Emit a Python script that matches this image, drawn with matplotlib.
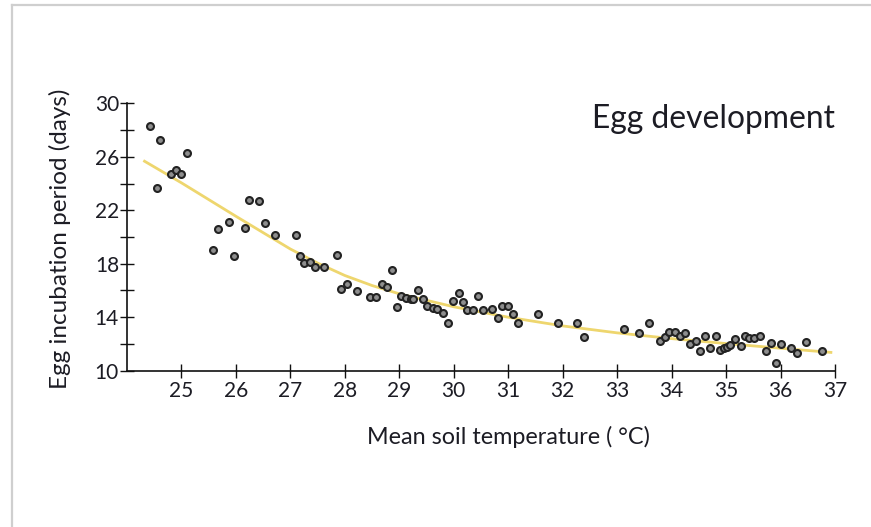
import numpy as np
import matplotlib.pyplot as plt
from matplotlib.ticker import FixedLocator


# scatter: mean soil temperature (C) vs egg incubation period (days)
temp = [24.42, 24.61, 25.10, 24.80, 24.90, 25.00, 24.55, 26.24, 26.43, 25.87,
        26.53, 25.67, 26.16, 26.71, 27.10, 25.57, 25.97, 27.17, 27.25, 27.36,
        27.46, 27.62, 27.85, 27.93, 28.04, 28.22, 28.47, 28.58, 28.68, 28.78,
        28.86, 28.96, 29.04, 29.12, 29.21, 29.26, 29.34, 29.44, 29.51, 29.61,
        29.70, 29.80, 29.90, 29.98, 30.09, 30.17, 30.25, 30.36, 30.44, 30.54,
        30.71, 30.82, 30.89, 30.99, 31.09, 31.18, 31.54, 31.92, 32.27, 32.39,
        33.12, 33.40, 33.58, 33.78, 33.87, 33.95, 34.06, 34.15, 34.25, 34.33,
        34.44, 34.52, 34.61, 34.71, 34.81, 34.88, 34.96, 35.02, 35.08, 35.17,
        35.28, 35.34, 35.43, 35.52, 35.62, 35.73, 35.83, 35.92, 36.00, 36.20,
        36.30, 36.47, 36.77]
days = [28.30, 27.26, 26.30, 24.71, 25.01, 24.71, 23.69, 22.79, 22.71, 21.14,
        21.07, 20.60, 20.67, 20.13, 20.13, 19.05, 18.60, 18.55, 18.03, 18.15,
        17.78, 17.78, 18.63, 16.11, 16.51, 15.98, 15.49, 15.49, 16.46, 16.26,
        17.53, 14.76, 15.59, 15.42, 15.39, 15.34, 16.01, 15.34, 14.82, 14.67,
        14.64, 14.34, 13.55, 15.24, 15.83, 15.12, 14.54, 14.54, 15.59, 14.54,
        14.61, 13.96, 14.86, 14.86, 14.22, 13.55, 14.22, 13.55, 13.57, 12.54,
        13.10, 12.80, 13.59, 12.24, 12.54, 12.87, 12.87, 12.62, 12.80, 12.00,
        12.22, 11.47, 12.62, 11.72, 12.60, 11.55, 11.72, 11.80, 11.92, 12.37,
        11.87, 12.60, 12.42, 12.42, 12.60, 11.50, 12.05, 10.55, 12.00, 11.67,
        11.30, 12.15, 11.50]

# trend line
curve_t = [24.3, 25, 26, 27, 27.5, 28, 28.5, 29, 30, 31, 32, 33, 34, 35, 36,
           36.95]
curve_d = [25.72, 24.05, 21.55, 19.10, 18.05, 17.12, 16.37, 15.75, 14.78,
           14.00, 13.35, 12.83, 12.40, 12.03, 11.68, 11.36]

xticks = list(range(25, 38))
ymajor = [10, 14, 18, 22, 26, 30]
yminor = [12, 16, 20, 24, 28]

FONT = ['Lato', 'DejaVu Sans']
INK = '#1c1c24'

plt.rcParams['font.family'] = FONT

fig = plt.figure(figsize=(8.71, 5.27), dpi=100)
ax = fig.add_axes([127 / 871, 1 - 370.7 / 527, 708 / 871, 267.4 / 527])

ax.plot(curve_t, curve_d, color='#eed66e', lw=2.0, zorder=2,
        solid_capstyle='butt', solid_joinstyle='round')
ax.plot(temp, days, 'o', ms=5, mfc='#8e8e8e', mec='#222222', mew=1.5,
        zorder=3, clip_on=False)

ax.set_xlim(24.0, 37)
ax.set_ylim(10, 30)

ax.spines['top'].set_visible(False)
ax.spines['right'].set_visible(False)
for s in ('left', 'bottom'):
    ax.spines[s].set_linewidth(1.2)
    ax.spines[s].set_color('#111111')

ax.set_xticks(xticks)
ax.yaxis.set_major_locator(FixedLocator(ymajor))
ax.yaxis.set_minor_locator(FixedLocator(yminor))
ax.tick_params(axis='both', which='both', direction='inout', length=9.5,
               width=1.0, color='#111111')
ax.tick_params(axis='x', labelsize=15, pad=3, labelcolor=INK)
ax.tick_params(axis='y', labelsize=15, pad=1, labelcolor=INK)

fig.text(60 / 871, 1 - 239 / 527, 'Egg incubation period (days)',
         rotation=90, ha='center', va='center', fontsize=17.5, color=INK)
fig.text(508 / 871, 1 - 437 / 527, 'Mean soil temperature ( °C)',
         ha='center', va='center', fontsize=16.8, color=INK)
fig.text(835 / 871, 1 - 128.3 / 527, 'Egg development',
         ha='right', va='baseline', fontsize=22.9, color=INK)

# light frame at the top and left edge of the picture
frame = '#cfcfcf'
fig.add_artist(plt.Line2D([12 / 871, 1], [1 - 4.5 / 527, 1 - 4.5 / 527],
                          transform=fig.transFigure, color=frame, lw=1.6))
fig.add_artist(plt.Line2D([12 / 871, 12 / 871], [0, 1 - 4.5 / 527],
                          transform=fig.transFigure, color=frame, lw=1.6))

fig.savefig('out.png', dpi=100)
